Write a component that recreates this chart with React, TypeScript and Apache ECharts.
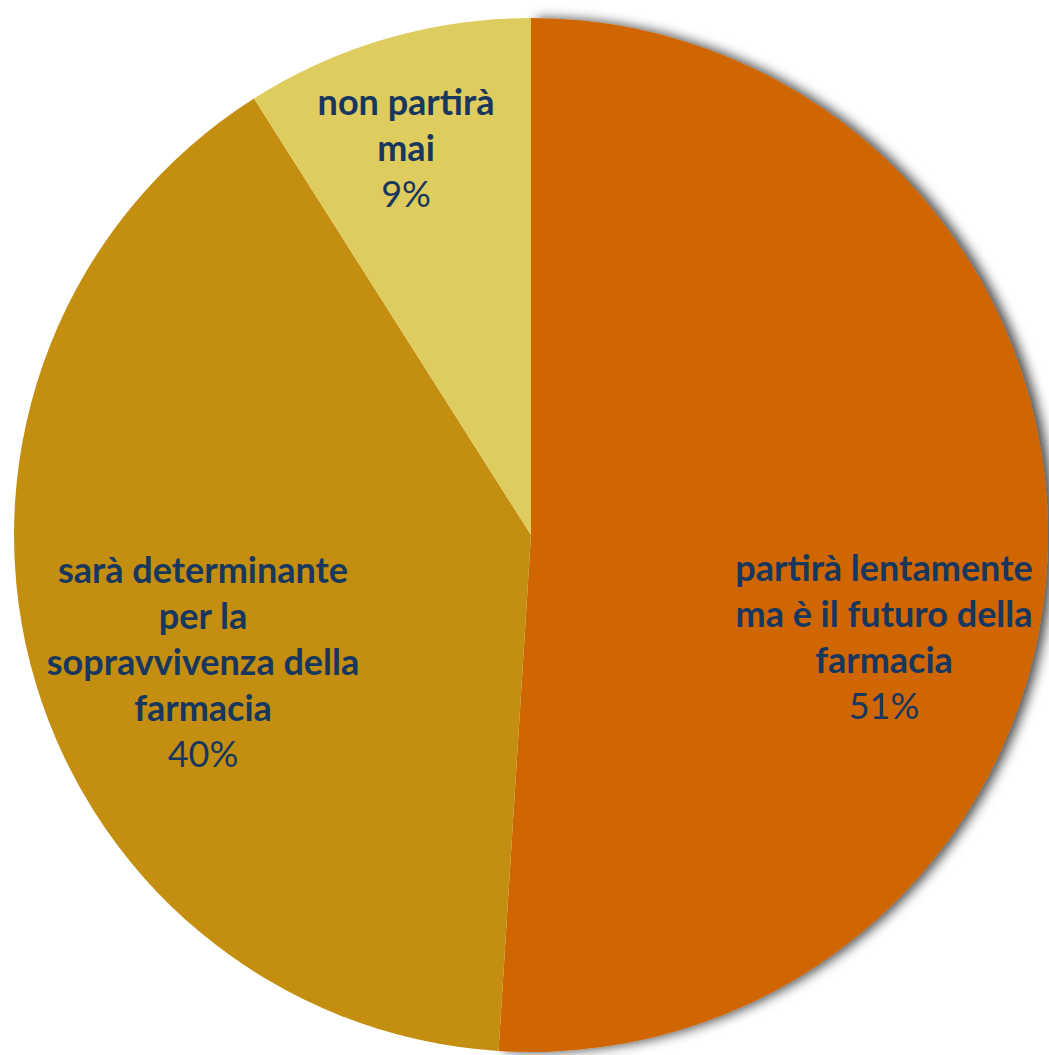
import React, { useEffect, useRef } from "react";
import * as echarts from "echarts";

const categories = [
  "partirà lentamente\nma è il futuro della\nfarmacia",
  "sarà determinante\nper la\nsopravvivenza della\nfarmacia",
  "non partirà\nmai",
];
const values = [51, 40, 9];
const colors = ["#D06600", "#C48E10", "#DFCC5E"];
const labelCenters: [number, number][] = [
  [884, 636],
  [203, 661],
  [406, 147],
];

export default function App() {
  const ref = useRef<HTMLDivElement>(null);
  useEffect(() => {
    document.body.style.margin = "0";
    const chart = echarts.init(ref.current!, null, { renderer: "svg" });
    chart.setOption({
      animation: false,
      backgroundColor: "#ffffff",
      series: [
        {
          type: "pie",
          center: [531, 535],
          radius: 517,
          startAngle: 90,
          clockwise: true,
          emphasis: { disabled: true },
          labelLine: { show: false },
          label: {
            show: true,
            position: "inside",
            formatter: (p: any) => `{b|${p.name}}\n{p|${p.value}%}`,
            align: "center",
            verticalAlign: "middle",
            rich: {
              b: {
                fontFamily: "Lato",
                fontWeight: "bold",
                fontSize: 36,
                lineHeight: 46,
                color: "#17375E",
                align: "center",
              },
              p: {
                fontFamily: "Lato",
                fontWeight: "normal",
                fontSize: 36,
                lineHeight: 46,
                color: "#17375E",
                align: "center",
              },
            },
          },
          labelLayout: (params: any) => {
            const c = labelCenters[params.dataIndex];
            return { x: c[0], y: c[1], align: "center", verticalAlign: "middle" };
          },
          data: categories.map((name, i) => ({
            name,
            value: values[i],
            itemStyle:
              i === 0
                ? {
                    color: colors[i],
                    shadowBlur: 12,
                    shadowColor: "rgba(0,0,0,0.7)",
                    shadowOffsetX: 6,
                    shadowOffsetY: 0,
                  }
                : { color: colors[i] },
          })),
        },
      ],
    });
    return () => chart.dispose();
  }, []);
  return (
    <div
      ref={ref}
      style={{ position: "absolute", left: 0, top: 0, width: 1049, height: 1055 }}
    />
  );
}
